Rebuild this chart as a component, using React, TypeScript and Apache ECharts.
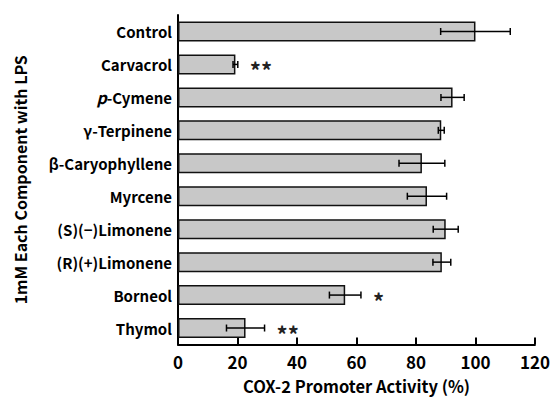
import React, { useEffect, useRef } from "react";
import * as echarts from "echarts";

const categories = [
  "Control",
  "Carvacrol",
  "p-Cymene",
  "γ-Terpinene",
  "β-Caryophyllene",
  "Myrcene",
  "(S)(−)Limonene",
  "(R)(+)Limonene",
  "Borneol",
  "Thymol",
];
const means = [100, 19.3, 92.3, 88.5, 82, 83.7, 90, 88.7, 56.2, 22.7];
const errors = [11.7, 0.8, 3.9, 1, 7.7, 6.6, 4.2, 3, 5.3, 6.4];
const significance = ["", "**", "", "", "", "", "", "", "*", "**"];
const xTicks = [0, 20, 40, 60, 80, 100, 120];

const FONT = "'Noto Sans CJK JP', 'Noto Sans', sans-serif";

export default function App() {
  const ref = useRef<HTMLDivElement>(null);
  useEffect(() => {
    if (!ref.current) return;
    const chart = echarts.init(ref.current, null, { renderer: "svg" });
    const errData = categories.map((_, i) => [i, means[i] - errors[i], means[i] + errors[i]]);
    const sigData = categories.map((_, i) => [i, means[i] + errors[i], significance[i]]);
    chart.setOption({
      animation: false,
      grid: { left: 178, right: 16, top: 15, bottom: 47 },
      xAxis: {
        type: "value",
        min: xTicks[0],
        max: xTicks[xTicks.length - 1],
        interval: 20,
        axisLine: { show: true, lineStyle: { color: "#000", width: 2 } },
        axisTick: { show: true, inside: true, length: 7, lineStyle: { color: "#000", width: 2 } },
        splitLine: { show: false },
        axisLabel: { color: "#000", fontSize: 17, fontWeight: "bold", fontFamily: FONT, margin: 8 },
        name: "COX-2 Promoter Activity (%)",
        nameLocation: "middle",
        nameGap: 33,
        nameTextStyle: { color: "#000", fontSize: 16.5, fontWeight: "bold", fontFamily: FONT },
      },
      yAxis: {
        type: "category",
        data: categories,
        inverse: true,
        axisLine: { show: true, lineStyle: { color: "#000", width: 2 } },
        axisTick: { show: false },
        axisLabel: {
          color: "#000",
          fontSize: 15,
          fontWeight: "bold",
          fontFamily: FONT,
          margin: 6,
          formatter: (v: string) => (v.startsWith("p-") ? "{it|p}" + v.slice(1) : v),
          rich: {
            it: { fontStyle: "italic", fontSize: 16, fontWeight: "bold", fontFamily: FONT, color: "#000" },
          },
        },
        name: "1mM Each Component with LPS",
        nameLocation: "middle",
        nameGap: 150,
        nameRotate: 90,
        nameTextStyle: { color: "#000", fontSize: 16, fontWeight: "bold", fontFamily: FONT },
      },
      series: [
        {
          type: "bar",
          data: means,
          barWidth: 20,
          itemStyle: { color: "#c8c8c8", borderColor: "#111", borderWidth: 1.5 },
          z: 2,
        },
        {
          type: "custom",
          data: errData,
          z: 3,
          renderItem: (params: any, api: any) => {
            const i = api.value(0);
            const lo = api.coord([api.value(1), i]);
            const hi = api.coord([api.value(2), i]);
            const h = 3.5;
            const style = { stroke: "#000", lineWidth: 1.5 };
            return {
              type: "group",
              children: [
                { type: "line", shape: { x1: lo[0], y1: lo[1], x2: hi[0], y2: hi[1] }, style },
                { type: "line", shape: { x1: lo[0], y1: lo[1] - h, x2: lo[0], y2: lo[1] + h }, style },
                { type: "line", shape: { x1: hi[0], y1: hi[1] - h, x2: hi[0], y2: hi[1] + h }, style },
              ],
            };
          },
        },
        {
          type: "custom",
          data: sigData,
          z: 3,
          renderItem: (params: any, api: any) => {
            const i = api.value(0);
            const p = api.coord([api.value(1), i]);
            const txt = significance[i];
            return {
              type: "text",
              x: p[0] + 12,
              y: p[1] + 5,
              style: {
                text: txt,
                fill: "#222",
                fontSize: 22,
                fontFamily: FONT,
                fontWeight: "bold",
                align: "left",
                verticalAlign: "middle",
              },
            };
          },
        },
      ],
    });
    return () => chart.dispose();
  }, []);
  return <div ref={ref} style={{ width: 553, height: 399, position: "absolute", left: 0, top: 0, background: "#fff" }} />;
}
